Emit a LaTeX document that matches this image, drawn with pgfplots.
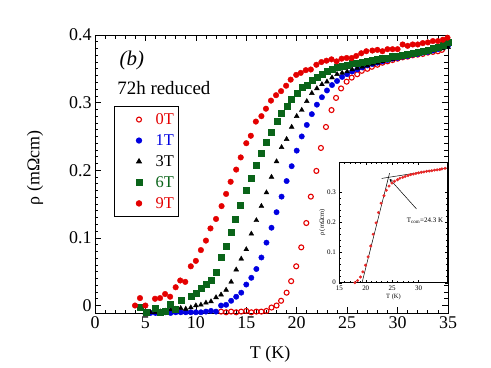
\documentclass[border=0pt]{standalone}
\usepackage{fontspec}
\setmainfont{Liberation Serif}
\usepackage{pgfplots}
\pgfplotsset{compat=1.18}
\definecolor{cRed}{RGB}{228,0,0}
\definecolor{cBlue}{RGB}{0,0,225}
\definecolor{cGreen}{RGB}{10,100,25}

\newcommand{\fs}[1]{\fontsize{#1}{#1}\selectfont}

\begin{document}
\begin{tikzpicture}
\path[use as bounding box] (-95bp,-54.7bp) rectangle (396bp,313.3bp);
\begin{axis}[name=main,at={(0bp,0bp)},anchor=south west,scale only axis,
  width=353bp,height=278.3bp,
  xmin=0,xmax=35,ymin=-0.0115,ymax=0.4,
  xtick={0,5,...,35},ytick={0,0.1,0.2,0.3,0.4},
  minor x tick num=4,minor y tick num=9,
  tick align=inside,major tick length=6bp,minor tick length=3.5bp,
  tick style={black,line width=0.7pt},
  axis line style={line width=0.9pt},
  /pgf/number format/assume math mode=true,
  tick label style={font=\fs{18}},
  yticklabel style={/pgf/number format/fixed,/pgf/number format/precision=1},
  xlabel={T (K)},ylabel={ρ (mΩcm)},
  label style={font=\fs{18}},
  xlabel style={at={(axis description cs:0.496,-0.146)},anchor=center},
  ylabel style={at={(axis description cs:-0.17,0.522)},anchor=center},
  legend image code/.code={%
    \path (0bp,0bp) (35bp,0bp);
    \draw[#1] plot coordinates {(21bp,0bp)};},
  legend style={at={(axis description cs:0.054,0.745)},anchor=north west,
    font=\fs{16.5},draw=black,line width=0.8pt,row sep=4.6bp,
    inner xsep=3bp,inner ysep=5bp,cells={anchor=west}},
  legend cell align=left,
  clip=false]
% 0T
\addplot[only marks,mark=o,mark size=2.5bp,draw=cRed,line width=1.1pt] coordinates {
(12.5,-0.009) (13.0,-0.010) (13.5,-0.009) (14.0,-0.010) (14.5,-0.009) (15.0,-0.008) (15.5,-0.010) (16.0,-0.009) (16.5,-0.009) (17.0,-0.008) (17.5,-0.003) (18.0,0.000) (18.45,0.007) (19.0,0.019) (19.45,0.036) (19.95,0.058) (20.45,0.086) (20.95,0.122) (21.4,0.161) (21.95,0.199) (22.4,0.233) (22.9,0.264) (23.45,0.289) (23.9,0.307) (24.4,0.321) (24.95,0.331) (25.45,0.337) (26.0,0.342) (26.45,0.347) (27.0,0.350) (27.45,0.353) (28.0,0.356) (28.5,0.359) (29.0,0.361) (29.5,0.363) (30.0,0.365) (30.5,0.367) (31.0,0.368) (31.5,0.370) (32.0,0.371) (32.5,0.372) (33.0,0.374) (33.5,0.375) (34.0,0.376) (34.4,0.378)};
\addlegendentry{\textcolor{cRed}{0T}}
% 1T
\addplot[only marks,mark=*,mark size=2.7bp,draw=cBlue,fill=cBlue] coordinates {
(5.5,-0.011) (6.0,-0.011) (6.5,-0.011) (7.0,-0.010) (7.5,-0.011) (8.0,-0.010) (8.5,-0.010) (9.0,-0.010) (9.5,-0.010) (10.0,-0.010) (10.5,-0.010) (11.0,-0.009) (11.5,-0.008) (12.0,-0.009) (12.5,0.000) (13.0,0.001) (13.5,0.007) (14.0,0.013) (14.5,0.019) (15.0,0.031) (15.5,0.041) (16.0,0.054) (16.5,0.071) (17.0,0.093) (17.5,0.115) (18.0,0.138) (18.5,0.161) (19.0,0.184) (19.5,0.206) (20.0,0.229) (20.5,0.250) (21.0,0.267) (21.5,0.283) (22.0,0.297) (22.5,0.308) (23.0,0.318) (23.5,0.326) (24.0,0.332) (24.5,0.338) (25.0,0.342) (25.5,0.346) (26.0,0.349) (26.5,0.352) (27.0,0.355) (27.5,0.357) (28.0,0.359) (28.5,0.361) (29.0,0.363) (29.5,0.365) (30.0,0.366) (30.5,0.368) (31.0,0.369) (31.5,0.371) (32.0,0.372) (32.5,0.374) (33.0,0.375) (33.5,0.377) (34.0,0.379) (34.5,0.382) (35.0,0.384)};
\addlegendentry{\textcolor{cBlue}{1T}}
% 3T
\addplot[only marks,mark=triangle*,mark size=2.8bp,draw=black,fill=black] coordinates {
(5.0,-0.011) (5.5,-0.010) (6.0,-0.010) (6.5,-0.009) (7.0,-0.008) (7.5,-0.006) (8.0,-0.005) (8.5,-0.004) (9.0,-0.005) (9.5,-0.003) (10.0,0.000) (10.5,0.001) (11.0,0.004) (11.5,0.006) (12.0,0.012) (12.5,0.016) (13.0,0.023) (13.5,0.035) (14.0,0.053) (14.5,0.069) (15.0,0.083) (15.5,0.106) (16.0,0.126) (16.5,0.147) (17.0,0.167) (17.5,0.190) (18.0,0.213) (18.5,0.234) (19.0,0.246) (19.5,0.264) (20.0,0.280) (20.5,0.289) (21.0,0.302) (21.5,0.314) (22.0,0.321) (22.5,0.327) (23.0,0.331) (23.5,0.337) (24.0,0.342) (24.5,0.344) (25.0,0.346) (25.5,0.349) (26.0,0.351) (26.5,0.353) (27.0,0.355) (27.5,0.357) (28.0,0.359) (28.5,0.361) (29.0,0.363) (29.5,0.364) (30.0,0.366) (30.5,0.368) (31.0,0.369) (31.5,0.371) (32.0,0.372) (32.5,0.373) (33.0,0.375) (33.5,0.377) (34.0,0.379) (34.5,0.380) (35.0,0.382)};
\addlegendentry{3T}
% 6T
\addplot[only marks,mark=square*,mark size=3bp,draw=cGreen,fill=cGreen] coordinates {
(4.45,-0.003) (5.1,-0.010) (5.95,-0.004) (6.45,-0.010) (6.95,-0.009) (7.5,0.002) (8.0,-0.005) (8.5,0.008) (9.5,0.014) (10.0,0.018) (10.5,0.026) (11.0,0.031) (11.55,0.038) (12.05,0.050) (12.55,0.071) (13.0,0.088) (13.5,0.109) (13.9,0.128) (14.4,0.149) (14.95,0.170) (15.5,0.188) (16.0,0.208) (16.5,0.225) (17.0,0.242) (17.5,0.257) (18.05,0.273) (18.5,0.285) (19.05,0.295) (19.5,0.305) (20.0,0.314) (20.5,0.323) (21.0,0.326) (21.5,0.333) (22.0,0.338) (22.5,0.342) (23.0,0.346) (23.5,0.349) (24.0,0.352) (24.5,0.354) (25.0,0.356) (25.5,0.358) (26.0,0.359) (26.5,0.360) (27.0,0.362) (27.5,0.363) (28.0,0.364) (28.5,0.365) (29.0,0.366) (29.5,0.368) (30.0,0.369) (30.5,0.370) (31.0,0.371) (31.5,0.373) (32.0,0.374) (32.5,0.376) (33.0,0.378) (33.5,0.380) (34.0,0.382) (34.5,0.385) (35.0,0.389)};
\addlegendentry{\textcolor{cGreen}{6T}}
% 9T
\addplot[only marks,mark=*,mark size=2.8bp,draw=cRed,fill=cRed] coordinates {
(3.97,0.000) (4.46,0.011) (5.0,0.000) (5.95,0.010) (6.45,0.011) (6.95,0.017) (7.45,0.013) (8.0,0.027) (8.45,0.037) (8.95,0.035) (9.5,0.058) (10.0,0.066) (10.5,0.082) (11.0,0.096) (11.45,0.114) (12.0,0.128) (12.55,0.147) (13.0,0.165) (13.45,0.183) (14.0,0.201) (14.45,0.219) (15.0,0.240) (15.45,0.251) (15.95,0.272) (16.5,0.280) (16.95,0.291) (17.45,0.303) (17.95,0.311) (18.45,0.317) (18.95,0.325) (19.4,0.334) (19.95,0.341) (20.4,0.344) (20.9,0.348) (21.4,0.349) (21.95,0.356) (22.45,0.360) (22.95,0.362) (23.45,0.364) (23.95,0.361) (24.45,0.365) (24.95,0.366) (25.45,0.366) (25.9,0.369) (26.4,0.373) (26.9,0.376) (27.5,0.377) (28.0,0.378) (28.5,0.376) (29.0,0.379) (29.5,0.379) (30.0,0.379) (30.5,0.386) (31.0,0.384) (31.5,0.386) (32.0,0.386) (32.5,0.388) (33.0,0.389) (33.5,0.391) (34.0,0.391) (34.5,0.393) (34.95,0.396)};
\addlegendentry{\textcolor{cRed}{9T}}
\node[font=\fs{21}\itshape] at (axis cs:3.65,0.363) {(b)};
\node[font=\fs{19},anchor=west,inner sep=0pt] at (axis cs:2.2,0.322) {72h reduced};
\end{axis}
\begin{axis}[at={(244.3bp,30.6bp)},anchor=south west,scale only axis,
  width=108.4bp,height=120.4bp,
  axis background/.style={fill=white},
  xmin=15,xmax=35.5,ymin=0,ymax=0.4,
  xtick={15,20,25,30},ytick={0,0.1,0.2,0.3},
  minor x tick num=4,minor y tick num=4,
  tick align=inside,major tick length=2.5bp,minor tick length=1.5bp,
  tick style={black,line width=0.4pt},
  axis line style={line width=0.5pt},
  /pgf/number format/assume math mode=true,
  tick label style={font=\fs{7}},
  yticklabel style={/pgf/number format/fixed,/pgf/number format/precision=1},
  xlabel={T (K)},ylabel={ρ (mΩcm)},
  label style={font=\fs{6.5}},
  xlabel style={yshift=4bp},ylabel style={yshift=-5bp}]
\addplot[only marks,mark=*,mark size=1.3bp,draw=cRed!85,fill=cRed!85] coordinates {
(17.95,0.000) (18.45,0.007) (19.0,0.019) (19.45,0.036) (19.95,0.058) (20.45,0.086) (20.95,0.122) (21.4,0.161) (21.95,0.199) (22.4,0.233) (22.9,0.264) (23.45,0.289) (23.9,0.307) (24.4,0.321) (24.95,0.331) (25.45,0.337) (26.0,0.342) (26.45,0.347) (27.0,0.350) (27.45,0.353) (28.0,0.356) (28.5,0.359) (29.0,0.361) (29.5,0.363) (30.0,0.365) (30.5,0.367) (31.0,0.368) (31.5,0.370) (32.0,0.371) (32.5,0.372) (33.0,0.374) (33.5,0.375) (34.0,0.376) (34.4,0.378) (35.0,0.380)};
\addplot[black,line width=0.5pt] coordinates {(19.3,0.0) (24.5,0.364)};
\addplot[black,line width=0.5pt] coordinates {(23.0,0.3464) (35.5,0.381)};
\draw[-stealth,line width=0.5pt] (axis cs:29.6,0.245) -- (axis cs:24.5,0.345);
\node[font=\fs{7}] at (axis cs:31.2,0.207) {T\textsubscript{com}=24.3 K};
\end{axis}
\end{tikzpicture}
\end{document}
